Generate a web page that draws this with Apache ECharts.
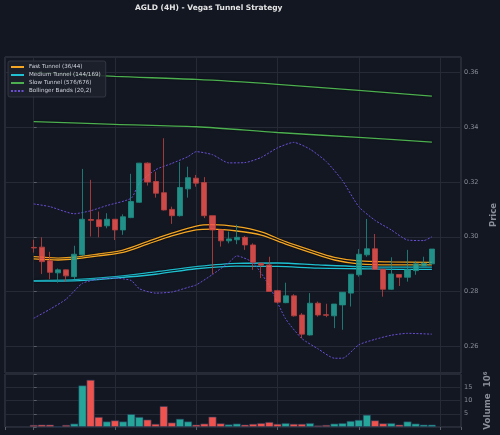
<!DOCTYPE html>
<html>
<head>
<meta charset="utf-8">
<script src="https://cdn.jsdelivr.net/npm/echarts@6/dist/echarts.min.js"></script>
<style>
  html, body { margin: 0; padding: 0; background: #131722; }
  #chart { width: 500px; height: 435px; }
</style>
</head>
<body>
<div id="chart"></div>
<script>
// candles, one per 4H bar (index 0..49)
const opens  = [0.2961, 0.2962, 0.2912, 0.2868, 0.2879, 0.2854, 0.2934, 0.3063, 0.3062, 0.3040,
                0.3064, 0.3025, 0.3070, 0.3126, 0.3269, 0.3202, 0.3161, 0.3100, 0.3077, 0.3175,
                0.3214, 0.3198, 0.3077, 0.3025, 0.2985, 0.2989, 0.2998, 0.2970, 0.2903, 0.2897,
                0.2803, 0.2759, 0.2784, 0.2714, 0.2641, 0.2757, 0.2715, 0.2711, 0.2751, 0.2794,
                0.2861, 0.2934, 0.2956, 0.2881, 0.2808, 0.2862, 0.2852, 0.2876, 0.2893, 0.2901]
const closes = [0.2959, 0.2909, 0.2870, 0.2879, 0.2857, 0.2936, 0.3064, 0.3060, 0.3037, 0.3064,
                0.3025, 0.3073, 0.3129, 0.3269, 0.3200, 0.3159, 0.3098, 0.3077, 0.3180, 0.3216,
                0.3196, 0.3077, 0.3025, 0.2985, 0.2992, 0.2998, 0.2970, 0.2907, 0.2896, 0.2800,
                0.2761, 0.2784, 0.2711, 0.2644, 0.2757, 0.2714, 0.2713, 0.2754, 0.2797, 0.2863,
                0.2936, 0.2956, 0.2881, 0.2808, 0.2864, 0.2852, 0.2879, 0.2901, 0.2903, 0.2955]
const lows   = [0.2942, 0.2864, 0.2845, 0.2832, 0.2836, 0.2845, 0.2930, 0.3001, 0.2998, 0.3031,
                0.2988, 0.3007, 0.3068, 0.3124, 0.3187, 0.3143, 0.3096, 0.3047, 0.3074, 0.3143,
                0.3183, 0.3068, 0.2864, 0.2964, 0.2976, 0.2973, 0.2952, 0.2879, 0.2849, 0.2800,
                0.2757, 0.2757, 0.2708, 0.2629, 0.2639, 0.2708, 0.2706, 0.2666, 0.2660, 0.2745,
                0.2854, 0.2927, 0.2879, 0.2781, 0.2806, 0.2820, 0.2836, 0.2861, 0.2891, 0.2897]
const highs  = [0.2989, 0.2998, 0.2945, 0.2884, 0.2880, 0.2967, 0.3248, 0.3208, 0.3092, 0.3086,
                0.3064, 0.3082, 0.3230, 0.3270, 0.3272, 0.3238, 0.3360, 0.3110, 0.3273, 0.3256,
                0.3226, 0.3218, 0.3077, 0.3025, 0.3019, 0.3044, 0.3003, 0.2976, 0.2903, 0.2927,
                0.2806, 0.2832, 0.2790, 0.2721, 0.2794, 0.2763, 0.2755, 0.2754, 0.2797, 0.2863,
                0.2955, 0.3065, 0.3010, 0.2881, 0.2925, 0.2862, 0.2952, 0.2912, 0.2927, 0.2955]
// volume in millions
const volumes = [0.8, 0.9, 0.9, 0.2, 0.8, 1.3, 15.7, 17.8, 3.8, 2.1,
                 2.5, 2.1, 4.9, 3.8, 2.8, 1.2, 7.9, 1.7, 3.1, 2.1,
                 0.9, 1.3, 3.9, 1.4, 1.0, 1.3, 0.9, 1.2, 1.5, 1.9,
                 1.2, 1.5, 1.2, 1.2, 1.5, 0.6, 0.8, 1.3, 1.5, 2.3,
                 2.7, 4.6, 2.5, 1.4, 1.5, 0.9, 2.1, 1.3, 0.9, 0.9]

// tunnel lines (EMA pairs), sampled at bar indices
const fastIdx = [0, 3, 5, 8, 11, 14, 17, 20, 22, 25, 28, 31, 34, 37, 40, 44, 49]
const fastA = [0.2927, 0.2922, 0.2925, 0.2937, 0.2951, 0.2982, 0.3013, 0.3039, 0.3044, 0.3037, 0.3018, 0.2982, 0.2952, 0.2925, 0.2912, 0.2908, 0.2906]
const fastB = [0.2919, 0.2915, 0.2918, 0.2930, 0.2943, 0.2973, 0.3003, 0.3025, 0.3028, 0.3021, 0.3006, 0.2973, 0.2943, 0.2915, 0.2901, 0.2897, 0.2897]

const medIdx = [0, 5, 10, 15, 20, 25, 30, 35, 40, 45, 49]
const medA = [0.2840, 0.2843, 0.2854, 0.2872, 0.2891, 0.2903, 0.2904, 0.2897, 0.2891, 0.2889, 0.2889]
const medB = [0.2838, 0.2839, 0.2849, 0.2863, 0.2883, 0.2893, 0.2892, 0.2885, 0.2883, 0.2881, 0.2881]

const slowIdx = [0, 10, 20, 30, 40, 49]
const slowA = [0.3601, 0.3586, 0.3575, 0.3557, 0.3535, 0.3514]
const slowB = [0.3421, 0.3411, 0.3402, 0.3381, 0.3363, 0.3346]

// Bollinger bands (20,2)
const bbUpIdx = [0, 2, 5, 7, 9, 12, 13, 15, 17, 19, 20, 22, 24, 26, 28, 30, 32, 34, 36, 38, 40, 42, 44, 46, 48, 49]
const bbUpper = [0.3120, 0.3110, 0.3084, 0.3095, 0.3114, 0.3141, 0.3196, 0.3245, 0.3268, 0.3293, 0.3311, 0.3300, 0.3270,
                 0.3271, 0.3290, 0.3325, 0.3345, 0.3320, 0.3275, 0.3205, 0.3110, 0.3060, 0.3025, 0.2988, 0.2986, 0.3000]
const bbLowIdx = [0, 2, 4, 6, 8, 10, 12, 13, 15, 17, 19, 20, 22, 24, 25, 27, 29, 31, 33, 35, 37, 38, 40, 42, 44, 46, 49]
const bbLower = [0.2702, 0.2735, 0.2772, 0.2830, 0.2845, 0.2849, 0.2840, 0.2810, 0.2794, 0.2798, 0.2815, 0.2824, 0.2862, 0.2905,
                 0.2930, 0.2905, 0.2820, 0.2700, 0.2628, 0.2590, 0.2556, 0.2556, 0.2605, 0.2625, 0.2640, 0.2647, 0.2644]

const UP = '#26a69a'
const DOWN = '#ef5350'
const GRID_LINE = '#252a36'
const BORDER = '#3d414c'
const LABEL = '#8a8e99'

function pairs(idx, vals) {
  return idx.map((x, k) => [x, vals[k]])
}

function tunnelLine(name, idx, vals, color) {
  return {
    name: name,
    type: 'line',
    xAxisIndex: 0,
    yAxisIndex: 0,
    data: pairs(idx, vals),
    symbol: 'none',
    smooth: 0.3,
    lineStyle: { color: color, width: 1.3, shadowColor: 'rgba(0,0,0,0.8)', shadowBlur: 2 },
    itemStyle: { color: color },
    z: 2,
  }
}

function bandLine(idx, vals) {
  return {
    name: 'Bollinger Bands (20,2)',
    type: 'line',
    xAxisIndex: 0,
    yAxisIndex: 0,
    data: pairs(idx, vals),
    symbol: 'none',
    smooth: 0.2,
    lineStyle: { color: '#6a4fd6', width: 1, type: [2, 1.5] },
    itemStyle: { color: '#6a4fd6' },
    z: 2,
  }
}

const xBase = {
  type: 'value',
  min: -3.53,
  max: 52.58,
  splitNumber: 5,
  axisLine: { show: false },
  axisLabel: { show: false },
  splitLine: { show: true, lineStyle: { color: GRID_LINE, width: 1 } },
}

const chart = echarts.init(document.getElementById('chart'), null, { renderer: 'canvas' })

const option = {
  backgroundColor: '#131722',
  animation: false,
  textStyle: { fontFamily: 'DejaVu Sans' },
  title: {
    text: 'AGLD (4H) - Vegas Tunnel Strategy',
    left: 135,
    top: 4,
    padding: 0,
    textStyle: { color: '#e4e4e4', fontSize: 7.5, fontWeight: 'bold', fontFamily: 'DejaVu Sans' },
  },
  legend: {
    left: 8,
    top: 61,
    orient: 'vertical',
    itemWidth: 13,
    itemHeight: 6,
    itemGap: 2,
    padding: [3, 5, 3, 2],
    backgroundColor: 'rgba(30,34,45,0.85)',
    borderColor: '#3a3e4a',
    borderWidth: 0.8,
    borderRadius: 2,
    // hide the marker dot, keep only the line sample
    itemStyle: { opacity: 0, borderWidth: 0 },
    textStyle: { color: '#d1d4dc', fontSize: 5.6, fontFamily: 'DejaVu Sans' },
    data: ['Fast Tunnel (36/44)', 'Medium Tunnel (144/169)', 'Slow Tunnel (576/676)', 'Bollinger Bands (20,2)'],
  },
  grid: [
    { left: 5, top: 57, width: 456, height: 316, show: true, borderColor: BORDER, borderWidth: 1, backgroundColor: 'transparent', outerBoundsMode: 'none' },
    { left: 5, top: 374, width: 456, height: 53, show: true, borderColor: BORDER, borderWidth: 1, backgroundColor: 'transparent', outerBoundsMode: 'none' },
  ],
  xAxis: [
    Object.assign({ gridIndex: 0, axisTick: { show: false } }, xBase),
    Object.assign({ gridIndex: 1, axisTick: { show: true, length: 3, lineStyle: { color: '#5a5e68' } } }, xBase),
  ],
  yAxis: [
    {
      gridIndex: 0,
      type: 'value',
      position: 'right',
      min: 0.2502,
      max: 0.3657,
      splitNumber: 5,
      axisLine: { show: false },
      axisTick: { show: true, length: 3, lineStyle: { color: '#5a5e68' } },
      axisLabel: {
        color: LABEL, fontSize: 6.5, margin: 3, showMinLabel: false, showMaxLabel: false,
        formatter: (v) => v.toFixed(2),
      },
      splitLine: { show: true, lineStyle: { color: GRID_LINE, width: 1 } },
      name: 'Price',
      nameLocation: 'middle',
      nameRotate: 90,
      nameGap: 21,
      nameTextStyle: { color: LABEL, fontSize: 8.5, fontWeight: 'bold' },
    },
    {
      gridIndex: 1,
      type: 'value',
      position: 'right',
      min: 0,
      max: 20,
      splitNumber: 4,
      axisLine: { show: false },
      axisTick: { show: true, length: 3, lineStyle: { color: '#5a5e68' } },
      axisLabel: {
        color: LABEL, fontSize: 6.5, margin: 3,
        formatter: (v) => (v > 0 && v < 20 ? String(v) : ''),
      },
      splitLine: { show: true, lineStyle: { color: GRID_LINE, width: 1 } },
      name: 'Volume  10\u2076',
      nameLocation: 'middle',
      nameRotate: 90,
      nameGap: 13,
      nameTextStyle: { color: LABEL, fontSize: 8.7, fontWeight: 'bold' },
    },
  ],
  series: [
    tunnelLine('Fast Tunnel (36/44)', fastIdx, fastA, '#f5a623'),
    tunnelLine('Fast Tunnel (36/44)', fastIdx, fastB, '#f5a623'),
    tunnelLine('Medium Tunnel (144/169)', medIdx, medA, '#1fc1d3'),
    tunnelLine('Medium Tunnel (144/169)', medIdx, medB, '#1fc1d3'),
    tunnelLine('Slow Tunnel (576/676)', slowIdx, slowA, '#4caf50'),
    tunnelLine('Slow Tunnel (576/676)', slowIdx, slowB, '#4caf50'),
    bandLine(bbUpIdx, bbUpper),
    bandLine(bbLowIdx, bbLower),
    {
      name: 'AGLD',
      type: 'candlestick',
      xAxisIndex: 0,
      yAxisIndex: 0,
      barWidth: 5.6,
      data: opens.map((o, i) => [i, o, closes[i], lows[i], highs[i]]),
      itemStyle: {
        color: UP,
        color0: DOWN,
        borderColor: '#1f8a80',
        borderColor0: '#b8403e',
        borderWidth: 1,
        opacity: 0.85,
      },
      z: 3,
    },
    {
      name: 'Volume',
      type: 'bar',
      xAxisIndex: 1,
      yAxisIndex: 1,
      barWidth: 8.1,
      data: volumes.map((v, i) => ({
        value: [i, v],
        itemStyle: { color: closes[i] >= opens[i] ? UP : DOWN },
      })),
      itemStyle: { borderColor: 'rgba(35,55,85,0.9)', borderWidth: 0.7 },
    },
  ],
}

chart.setOption(option)
</script>
</body>
</html>
